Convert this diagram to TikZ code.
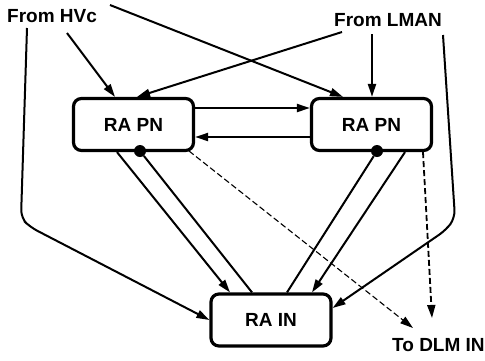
\documentclass[tikz,border=0pt]{standalone}
\usepackage{fontspec}
\setmainfont{Liberation Sans}
\usetikzlibrary{arrows.meta}
\begin{document}
\begin{tikzpicture}[x=1pt,y=-1pt,
  box/.style={draw,line width=3.2pt,rounded corners=8pt,minimum width=120pt,minimum height=52pt,inner sep=0pt,font=\fontsize{19}{21}\bfseries\selectfont},
  lbl/.style={inner sep=0pt,font=\fontsize{19}{21}\bfseries\selectfont},
  conn/.style={line width=2pt,-{Triangle[length=13pt,width=8pt]}},
  plain/.style={line width=2pt},
  dconn/.style={line width=1.8pt,dash pattern=on 6pt off 3pt,-{Triangle[length=13pt,width=8pt]}},
  dot/.style={circle,fill,inner sep=0pt,minimum size=12pt}]
\useasboundingbox (0,0) rectangle (485,360);
\node[box] (pl) at (133.5,124.5) {RA PN};
\node[box] (pr) at (371.5,124.5) {RA PN};
\node[box] (in) at (271,320) {RA IN};
\node[lbl,anchor=west] (hvc) at (7,16) {From HVc};
\node[lbl,anchor=west] (lman) at (334,20) {From LMAN};
\node[lbl,anchor=west] (dlm) at (392,345) {To DLM IN};
\node[dot] (dl) at (140,151) {};
\node[dot] (dr) at (377,151) {};
\coordinate (hvcL) at (27,28);
\coordinate (hvcA) at (67,33);
\coordinate (hvcB) at (110,5);
\coordinate (lmA) at (342,32);
\coordinate (lmB) at (372,34);
\coordinate (lmC) at (443,35);
\coordinate (dlmA) at (413,328);
\coordinate (dlmB) at (432,318);
% inputs
\draw[conn,rounded corners=8pt] (hvcL) -- (21,218) -- (30,227) -- (in.west |- 0,320);
\draw[conn] (hvcA) -- (pl.north west -| 115,0);
\draw[conn] (hvcB) -- (pr.north west -| 343,0);
\draw[conn] (lmA) -- (pl.north west -| 137,0);
\draw[conn] (lmB) -- (pr.north -| 372,0);
\draw[conn,rounded corners=8pt] (lmC) -- (455,218) -- (446,230) -- (in.east |- 0,308);
% PN to PN
\draw[conn] (pl.east |- 0,108) -- (pr.west |- 0,108);
\draw[conn] (pr.west |- 0,137) -- (pl.east |- 0,137);
% PN to IN
\draw[conn] (pl.south -| 117,0) -- (in.north -| 230,0);
\draw[plain] (in.north -| 252,0) -- (dl);
\draw[plain] (in.north -| 287,0) -- (dr);
\draw[conn] (pr.south -| 405,0) -- (in.north -| 312,0);
% to DLM
\draw[dconn,line width=1.1pt] (189,151) -- (dlmA);
\draw[dconn] (pr.south -| 423,0) -- (dlmB);
\end{tikzpicture}
\end{document}
